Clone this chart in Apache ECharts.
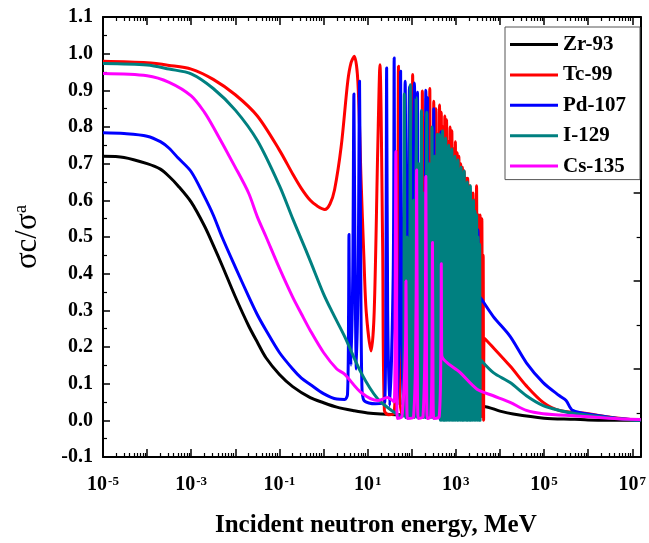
<!DOCTYPE html>
<html><head><meta charset="utf-8">
<script src="https://cdn.jsdelivr.net/npm/echarts@6/dist/echarts.min.js"></script>
<style>html,body{margin:0;padding:0;background:#fff}#c{width:649px;height:543px}</style>
</head><body><div id="c"></div>
<script>
// ---- data (x = incident neutron energy in MeV, y = sigma_c / sigma_a) ----
const seriesNames = ['Zr-93', 'Tc-99', 'Pd-107', 'I-129', 'Cs-135'];
const seriesColors = ['#000000', '#ff0000', '#0000ff', '#008080', '#ff00ff'];
const xLabelExponents = [-5, -3, -1, 1, 3, 5, 7];
const yTickValues = [-0.1, 0.0, 0.1, 0.2, 0.3, 0.4, 0.5, 0.6, 0.7, 0.8, 0.9, 1.0, 1.1];

const zr93 = [[1e-5,0.72],[3e-5,0.717],[1e-4,0.70],[2e-4,0.685],[3.16e-4,0.665],[5e-4,0.64],[1e-3,0.595],[2e-3,0.53],[3.16e-3,0.478],[5e-3,0.423],[1e-2,0.337],[2e-2,0.258],[3.16e-2,0.213],[5e-2,0.17],[0.1,0.125],[0.2,0.092],[0.5,0.062],[1,0.048],[2,0.036],[5,0.026],[10,0.02],[20,0.017],[50,0.015],[100,0.016],[300,0.022],[1000,0.028],[3000,0.036],[4300,0.038],[1e4,0.025],[2e4,0.017],[1e5,0.006],[5e5,0.003],[1e6,0.001],[1e7,0],[1.55e7,0]];

const tc99 = [[1e-5,0.979],[1e-4,0.975],[3.16e-4,0.968],[1e-3,0.958],[3.16e-3,0.93],[1e-2,0.888],[3.16e-2,0.83],[0.1,0.737],[0.2,0.672],[0.316,0.632],[0.5,0.6],[0.71,0.585],[1.07,0.575],[1.4,0.59],[1.78,0.629],[2.51,0.746],[3.55,0.925],[4.2,0.975],[5.0,0.993],[6.0,0.925],[7.1,0.656],[8.2,0.45],[9.3,0.296],[12,0.189],[14.1,0.296],[17,0.746],[19,0.97],[21.9,0.477],[24,0.027],[30,0.015],[40,0.02],[47,0.3],[50,0.966],[53,0.1],[58,0.02],[70,0.03],[76,0.6],[82,0.02],[98,0.03],[105,0.943],[111,0.02],[125,0.03],[132,0.8],[140,0.02],[165,0.03],[174,0.898],[185,0.02],[205,0.02],[214,0.88],[228,0.02],[245,0.02],[257,0.905],[272,0.02],[300,0.02],[316,0.87],[335,0.02],
[355,0.85],[372,0.01],[389,0.78],[407,0.01],[427,0.86],[447,0.01],[468,0.84],[490,0.01],[513,0.80],[537,0.01],[562,0.83],[589,0.01],[617,0.82],[646,0.01],[676,0.76],[708,0.01],[741,0.80],[776,0.01],[813,0.79],[851,0.01],[891,0.74],[933,0.01],[977,0.76],[1023,0.01],[1072,0.73],[1122,0.01],[1175,0.72],[1230,0.01],[1288,0.70],[1349,0.01],[1413,0.69],[1479,0.01],[1549,0.68],[1622,0.01],[1698,0.66],[1778,0.01],[1862,0.66],[1950,0.01],[2042,0.64],[2138,0.01],[2239,0.62],[2344,0.01],[2455,0.62],[2570,0.01],[2692,0.60],[2818,0.01],[2951,0.64],[3090,0.01],[3236,0.56],[3388,0.01],[3548,0.56],[3715,0.01],[3890,0.55],[4027,0.01],[4169,0.45],[4266,0.0],[4350,0.225],[17000,0.148],[39800,0.094],[95500,0.049],[224000,0.027],[759000,0.02],[2.95e6,0.009],[1e7,0.002],[1.55e7,0]];

const pd107 = [[1e-5,0.784],[3e-5,0.782],[1e-4,0.775],[2e-4,0.76],[3.16e-4,0.742],[5e-4,0.716],[1e-3,0.678],[2e-3,0.61],[3.16e-3,0.56],[5e-3,0.50],[1e-2,0.418],[2e-2,0.338],[3.16e-2,0.288],[5e-2,0.245],[0.1,0.185],[0.2,0.14],[0.316,0.115],[0.5,0.098],[1,0.073],[2,0.058],[3,0.057],[3.5,0.07],[3.7,0.3],[3.78,0.507],[3.9,0.3],[4.2,0.15],[4.6,0.4],[4.89,0.89],[5.2,0.4],[5.56,0.14],[6.1,0.4],[6.56,0.925],[7.0,0.4],[7.4,0.1],[8.2,0.055],[15,0.045],[24.5,0.05],[26,0.4],[27,0.961],[28.5,0.3],[31.6,0.04],[38,0.4],[40,0.988],[42,0.3],[46.8,0.04],[54,0.4],[56,0.952],[59,0.3],[63,0.04],[71,0.925],[77,0.04],[89,0.91],[95,0.04],[115,0.92],[124,0.04],[135,0.895],[145,0.04],[180,0.04],[209,0.90],[218,0.04],[229,0.88],[240,0.04],[290,0.04],[316,0.85],[335,0.04],[420,0.04],[462,0.787],[500,0.04],[550,0.74],[595,0.04],[646,0.70],[710,0.04],[794,0.72],[880,0.04],[1000,0.68],[1120,0.04],[1259,0.66],[1410,0.04],[1585,0.64],[1780,0.04],[1995,0.6],[2240,0.04],[2512,0.58],[2820,0.04],[3162,0.52],[3400,0.04],[3600,0.335],[7080,0.283],[17000,0.229],[39800,0.157],[95500,0.103],[224000,0.067],[316000,0.054],[447000,0.027],[1.26e6,0.015],[4.27e6,0.006],[1e7,0.002],[1.55e7,0]];

const i129 = [[1e-5,0.973],[1e-4,0.969],[3.16e-4,0.958],[1e-3,0.945],[3.16e-3,0.905],[1e-2,0.846],[3.16e-2,0.763],[0.1,0.64],[0.2,0.55],[0.316,0.493],[0.5,0.435],[1,0.345],[1.58,0.295],[3,0.229],[7.1,0.13],[17,0.058],[40,0.022],[55,0.012],[64,0.012],[68,0.89],[72,0.008],[76,0.008],[79,0.5],[83,0.008],[88,0.008],[93,0.915],[98,0.008],[105,0.008],[110,0.6],[116,0.008],[120,0.008],[126,0.88],[132,0.008],[139,0.008],[145,0.7],[152,0.008],[158,0.008],[166,0.845],[174,0.008],[183,0.008],[191,0.62],[200,0.008],[209,0.008],[219,0.84],[229,0.008],[240,0.008],[251,0.7],[262,0.008],[275,0.008],[288,0.80],[300,0.008],[316,0.008],[331,0.72],[346,0.008],[363,0.008],[380,0.78],[398,0.008],[413,0.008],
[427,0.78],[444,0],[462,0.76],[481,0],[501,0.79],[522,0],[543,0.72],[565,0],[589,0.77],[613,0],[638,0.74],[665,0],[692,0.75],[720,0],[750,0.70],[781,0],[813,0.74],[846,0],[881,0.66],[917,0],[955,0.72],[994,0],[1035,0.70],[1078,0],[1122,0.71],[1168,0],[1216,0.64],[1266,0],[1318,0.69],[1372,0],[1429,0.66],[1488,0],[1549,0.68],[1613,0],[1679,0.62],[1748,0],[1820,0.65],[1895,0],[1972,0.63],[2054,0],[2138,0.64],[2226,0],[2317,0.58],[2413,0],[2512,0.60],[2616,0],[2723,0.57],[2835,0],[2951,0.56],[3073,0],[3199,0.50],[3331,0],[3467,0.48],[3548,0],[3560,0.166],[7080,0.13],[17000,0.103],[39800,0.067],[95500,0.04],[224000,0.027],[537000,0.018],[2.95e6,0.007],[1e7,0.001],[1.55e7,0]];

const cs135 = [[1e-5,0.946],[1e-4,0.94],[3.16e-4,0.922],[1e-3,0.885],[2e-3,0.84],[3.16e-3,0.80],[1e-2,0.69],[2e-2,0.62],[3.16e-2,0.555],[5e-2,0.50],[0.1,0.415],[0.2,0.336],[0.316,0.29],[0.5,0.245],[1,0.185],[2,0.14],[3,0.126],[7.1,0.076],[17,0.054],[28,0.062],[40,0.05],[42,0.3],[43.7,0.733],[45.5,0.3],[47,0.005],[60,0.01],[72,0.2],[74,0.38],[76,0.2],[80,0.005],[110,0.01],[125,0.3],[129,0.683],[133,0.3],[140,0.005],[180,0.01],[203,0.3],[209,0.665],[215,0.3],[225,0.005],[270,0.01],[288,0.2],[295,0.485],[302,0.2],[315,0.005],[420,0.01],[458,0.2],[468,0.427],[476,0.2],[482,0.175],[1259,0.13],[3020,0.085],[7080,0.067],[17000,0.049],[39800,0.027],[95500,0.018],[537000,0.012],[2.95e6,0.006],[1.55e7,0.002]];

const seriesData = [zr93, tc99, pd107, i129, cs135];

// ---- chart ----
const FONT = "'Liberation Serif', 'DejaVu Serif', serif";
const chart = echarts.init(document.getElementById('c'), null, {renderer: 'canvas'});

const xAxisBase = {
  type: 'log', logBase: 10, min: 1e-5, max: 1.55e7, interval: 1, splitNumber: 12,
  axisLine: {show: true, onZero: false, lineStyle: {color: '#000', width: 2}},
  axisTick: {show: true, inside: true, length: 8, lineStyle: {color: '#000', width: 1.5}},
  minorTick: {show: true, splitNumber: 9, length: 4, lineStyle: {color: '#000', width: 1.2}},
  splitLine: {show: false}
};

chart.setOption({
  animation: false,
  backgroundColor: '#ffffff',
  grid: {left: 103, right: 4, top: 17, bottom: 81, containLabel: false},
  legend: {
    show: true, orient: 'vertical', left: 505, top: 27,
    data: seriesNames,
    icon: 'rect',
    itemWidth: 48, itemHeight: 3, itemGap: 9.4,
    padding: [7, 14, 3, 5],
    borderColor: '#555', borderWidth: 1, backgroundColor: '#fff',
    textStyle: {fontFamily: FONT, fontWeight: 'bold', fontSize: 21, color: '#000'}
  },
  xAxis: [
    Object.assign({}, xAxisBase, {
      position: 'bottom',
      name: 'Incident neutron energy, MeV', nameLocation: 'middle', nameGap: 56,
      nameTextStyle: {fontFamily: FONT, fontWeight: 'bold', fontSize: 25, color: '#000', padding: [0, 0, 0, 8]},
      axisLabel: {
        show: true, margin: 18, showMinLabel: true, showMaxLabel: true,
        formatter: function (v) {
          const e = Math.round(Math.log10(v));
          if (Math.abs(Math.log10(v) - e) > 1e-6) return '';
          if (xLabelExponents.indexOf(e) < 0) return '';
          return '{b|10}{s|' + e + '}';
        },
        rich: {
          b: {fontFamily: FONT, fontWeight: 'bold', fontSize: 20, color: '#000'},
          s: {fontFamily: FONT, fontWeight: 'bold', fontSize: 13, color: '#000', verticalAlign: 'top', padding: [0, 0, 0, 1]}
        }
      }
    }),
    Object.assign({}, xAxisBase, {position: 'top', axisLabel: {show: false}})
  ],
  yAxis: [
    {
      type: 'value', min: -0.1, max: 1.1, interval: 0.1, position: 'left',
      name: '{m|σc/σ}{s|a}', nameLocation: 'middle', nameGap: 60,
      nameTextStyle: {rich: {
        m: {fontFamily: FONT, fontSize: 31, color: '#000'},
        s: {fontFamily: FONT, fontSize: 19, color: '#000', verticalAlign: 'top'}
      }},
      axisLine: {show: true, onZero: false, lineStyle: {color: '#000', width: 2}},
      axisTick: {show: true, inside: true, length: 7, lineStyle: {color: '#000', width: 1.5}},
      minorTick: {show: true, splitNumber: 2, length: 4, lineStyle: {color: '#000', width: 1.2}},
      splitLine: {show: false},
      axisLabel: {
        margin: 10, fontFamily: FONT, fontWeight: 'bold', fontSize: 20, color: '#000',
        formatter: function (v) {
          for (let i = 0; i < yTickValues.length; i++) {
            if (Math.abs(yTickValues[i] - v) < 1e-9) return yTickValues[i].toFixed(1);
          }
          return '';
        }
      }
    },
    {
      type: 'value', min: 0, max: 10, interval: 2, position: 'right',
      axisLine: {show: true, onZero: false, lineStyle: {color: '#000', width: 2}},
      axisTick: {show: true, inside: true, length: 7, lineStyle: {color: '#000', width: 1.5}},
      minorTick: {show: true, splitNumber: 2, length: 4, lineStyle: {color: '#000', width: 1.2}},
      splitLine: {show: false},
      axisLabel: {show: false}
    }
  ],
  series: seriesNames.map(function (name, i) {
    return {
      name: name, type: 'line', xAxisIndex: 0, yAxisIndex: 0,
      data: seriesData[i], symbol: 'none', showSymbol: false,
      smooth: 0.3,
      clip: true, z: 2 + i,
      lineStyle: {color: seriesColors[i], width: 3, join: 'round'},
      itemStyle: {color: seriesColors[i]}
    };
  })
});
</script>
</body></html>
